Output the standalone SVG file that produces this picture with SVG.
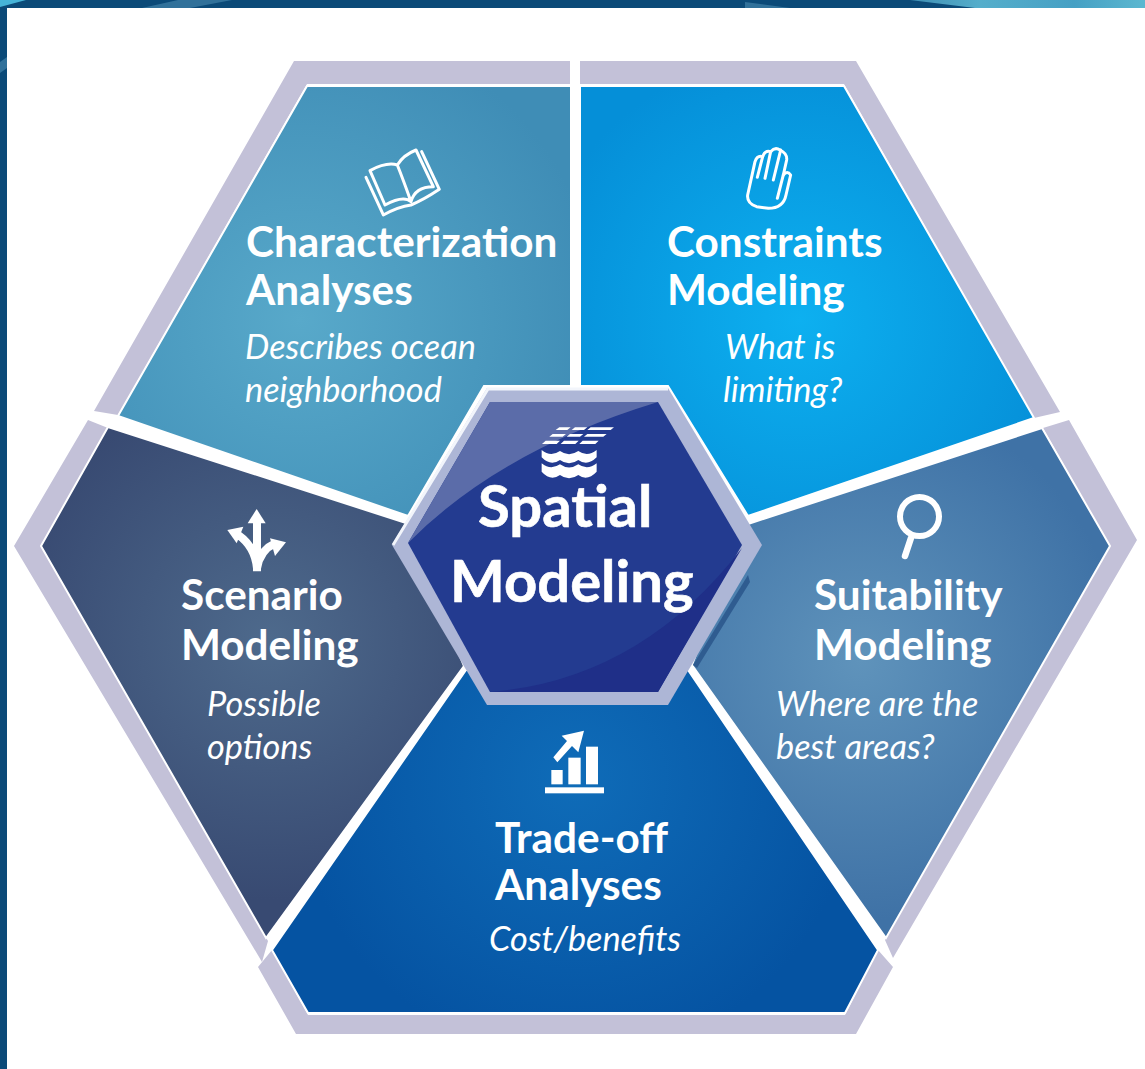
<svg xmlns="http://www.w3.org/2000/svg" width="1145" height="1069" viewBox="0 0 1145 1069">
<style>
.band{fill:#c3c1d8}
.panel{stroke:#fff;stroke-width:2;stroke-linejoin:miter}
.h{font-family:Lato,"Open Sans",sans-serif;font-weight:700;font-size:42.3px;fill:#fff}
.s{font-family:Lato,"Open Sans",sans-serif;font-style:italic;font-size:34.3px;fill:#fff}
.c{font-family:Lato,"Open Sans",sans-serif;font-weight:700;font-size:58px;fill:#fff;stroke:#fff;stroke-width:.6}
.ln{fill:none;stroke:#fff;stroke-linecap:round;stroke-linejoin:round}
</style>
<defs>
<radialGradient id="g1" gradientUnits="userSpaceOnUse" cx="300" cy="320" r="300"><stop offset="0" stop-color="#58a9ca"/><stop offset="1" stop-color="#3f8db6"/></radialGradient>
<radialGradient id="g2" gradientUnits="userSpaceOnUse" cx="800" cy="320" r="270"><stop offset="0" stop-color="#0db0f0"/><stop offset="1" stop-color="#058fd8"/></radialGradient>
<radialGradient id="g3" gradientUnits="userSpaceOnUse" cx="860" cy="660" r="260"><stop offset="0" stop-color="#5f93bb"/><stop offset="1" stop-color="#3f72a6"/></radialGradient>
<radialGradient id="g4" gradientUnits="userSpaceOnUse" cx="270" cy="640" r="260"><stop offset="0" stop-color="#4e6a8c"/><stop offset="1" stop-color="#384a72"/></radialGradient>
<radialGradient id="g5" gradientUnits="userSpaceOnUse" cx="575" cy="780" r="280"><stop offset="0" stop-color="#0f6cb8"/><stop offset="1" stop-color="#0553a2"/></radialGradient>
<linearGradient id="tr" x1="0" x2="1" y1="0" y2="0"><stop offset="0" stop-color="#3f8fb4"/><stop offset=".3" stop-color="#55aecb"/><stop offset=".7" stop-color="#45a0c4"/><stop offset="1" stop-color="#5cb8d0"/></linearGradient>
</defs>
<rect width="1145" height="1069" fill="#0b4a78"/>
<polygon fill="#46b4d8" points="0,0 26,0 0,7"/>
<polygon fill="#31719a" points="142,8 178,0 232,0 190,8"/>
<polygon fill="#31719a" points="745,2 745,8 790,8"/>
<polygon fill="url(#tr)" points="910,0 1145,0 1145,8 975,8"/>
<polygon fill="#31719a" points="0,62 7,57 7,68 0,73"/>
<rect x="7" y="8" width="1138" height="1061" fill="#fff"/>
<g id="outer-band">
<polygon class="band" points="294,61 570,61 570,84 307,84 118,415 94,411"/>
<polygon class="band" points="580,61 856,61 1060,412 1034,418 844,84 580,84"/>
<polygon class="band" points="1069,420 1137,540 893,958 885,940 1110,546 1043,428"/>
<polygon class="band" points="88,420 14,546 262,962 268,941 42,546 108,428"/>
<polygon class="band" points="258,967 296,1034 856,1034 893,967 878,950 845,1015 308,1015 272,950"/>
</g>
<g id="characterization">
<polygon class="panel" fill="url(#g1)" points="307,86 571,86 571,386 484,386 408,516 118,416"/>
<g transform="translate(340,140) scale(.3333)" class="ln" stroke-width="9">
<path d="M213,185Q190,165 135,195L90,92Q140,65 172,75Q190,120 213,185Q225,140 280,140L228,30Q190,45 172,75"/>
<path d="M78,112L130,225Q175,200 213,195Q250,180 298,148L245,35"/>
</g>
<text class="h" x="246" y="257">Characterization</text>
<text class="h" x="246" y="305">Analyses</text>
<text class="s" x="245" y="359">Describes ocean</text>
<text class="s" x="245" y="402">neighborhood</text>
</g>
<g id="constraints">
<polygon class="panel" fill="url(#g2)" points="580,86 844,86 1034,418 748,516 668,386 580,386"/>
<g transform="translate(700,140) scale(.3333)" class="ln" stroke-width="9">
<path d="M143,165L165,65Q172,45 188,50Q195,30 212,35Q225,20 240,30Q262,40 260,60L250,105Q262,90 272,105L258,165Q250,205 205,205L170,200Q140,190 143,165Z"/>
<path d="M188,50L172,112M212,35L195,115M242,30L220,120M250,105L232,175"/>
</g>
<text class="h" x="667" y="257">Constraints</text>
<text class="h" x="667" y="305">Modeling</text>
<text class="s" x="725" y="359">What is</text>
<text class="s" x="723" y="402">limiting?</text>
</g>
<g id="suitability">
<polygon class="panel" fill="url(#g3)" points="1042,428 1110,546 886,938 692,665 745,525"/>
<circle class="ln" cx="919.5" cy="516.5" r="19.5" stroke-width="6"/>
<path class="ln" stroke-width="6.5" d="M911,538L905,556"/>
<text class="h" x="814" y="610">Suitability</text>
<text class="h" x="814" y="660">Modeling</text>
<text class="s" x="776" y="716">Where are the</text>
<text class="s" x="776" y="759">best areas?</text>
</g>
<g id="scenario">
<polygon class="panel" fill="url(#g4)" points="108,427 41,546 266,938 464,666 406,523"/>
<g transform="translate(210,500) scale(.3333)" fill="#fff">
<polygon points="140,27 113,70 167,70"/>
<path class="ln" stroke-width="24" style="stroke-linecap:butt" d="M141,214V65M141,205Q135,140 85,105M141,205Q150,150 195,130"/>
<polygon points="52,90 100,80 80,130"/>
<polygon points="228,127 180,115 195,168"/>
</g>
<text class="h" x="181" y="610">Scenario</text>
<text class="h" x="181" y="660">Modeling</text>
<text class="s" x="207" y="716">Possible</text>
<text class="s" x="207" y="759">options</text>
</g>
<g id="tradeoff">
<polygon class="panel" fill="url(#g5)" points="272,950 466,670 688,670 878,950 845,1013 308,1013"/>
<g transform="translate(530,720) scale(.3333)" fill="#fff">
<rect x="64" y="150" width="34" height="43"/>
<rect x="115" y="113" width="37" height="80"/>
<rect x="168" y="80" width="36" height="113"/>
<rect x="45" y="202" width="177" height="18"/>
<polygon points="162,32 95,47 111,63 70,112 82,127 126,78 145,97"/>
</g>
<text class="h" x="495" y="853">Trade-off</text>
<text class="h" x="495" y="900">Analyses</text>
<text class="s" x="489" y="951">Cost/benefits</text>
</g>
<g id="center">
<polygon fill="#2f5c90" points="693,665 748,575 750,582 697,668"/>
<polygon fill="#adb6d6" points="487,388 668,388 762,545 668,705 487,705 392,545"/>
<polyline fill="none" stroke="#f2f5fb" stroke-width="3" points="393,545 488,389 668,389"/>
<polygon fill="#233b90" points="490,402 658,402 742,545 658,692 490,692 408,543"/>
<path fill="#5b6ca9" d="M490,402H658Q500,450 408,543Z"/>
<path fill="#1f2f88" d="M742,548L658,692H490Q640,680 742,548Z"/>
<g transform="translate(380,370) scale(.3333)" fill="#fff">
<path d="M538,172H572L562,180H527ZM585,172H622L612,180H575ZM632,172H702L692,180H622ZM518,192H558L548,200H508ZM570,192H610L600,200H560ZM622,192H680L670,200H612ZM497,212H540L530,222H486ZM552,212H596L586,222H542ZM608,212H656L646,222H598Z"/>
<path d="M485,240Q512,262 540,243Q567,262 595,243Q622,262 650,240V262Q622,290 595,270Q567,290 540,270Q512,290 485,262Z"/>
<path d="M485,280Q512,302 540,283Q567,302 595,283Q622,302 650,280V305Q622,335 595,315Q567,335 540,315Q512,335 485,305Z"/>
</g>
<text class="c" x="478" y="527">Spatial</text>
<text class="c" x="450" y="602">Modeling</text>
</g>
</svg>
